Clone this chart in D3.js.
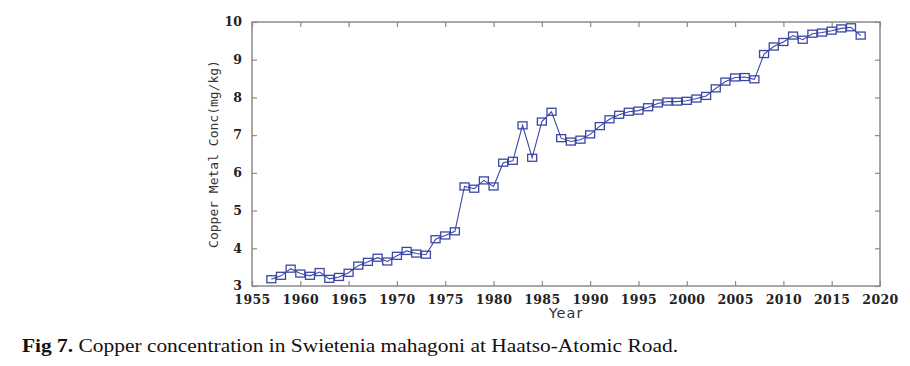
<!DOCTYPE html>
<html>
<head>
<meta charset="utf-8">
<script src="https://cdn.jsdelivr.net/npm/d3@7"></script>
<style>
  body { margin: 0; background: #fff; }
  .tick text { font-family: "DejaVu Serif", serif; font-weight: bold; fill: #222; }
</style>
</head>
<body>
<div class="chart"></div>
<script>
// values
const years = d3.range(1957, 2019)
const copper = [
  3.18, 3.27, 3.46, 3.33, 3.27, 3.37, 3.19, 3.24, 3.35, 3.54,
  3.64, 3.75, 3.65, 3.80, 3.93, 3.86, 3.83, 4.24, 4.34, 4.45,
  5.64, 5.58, 5.80, 5.64, 6.27, 6.32, 7.26, 6.40, 7.36, 7.62,
  6.92, 6.83, 6.88, 7.02, 7.24, 7.42, 7.54, 7.62, 7.65, 7.74,
  7.84, 7.89, 7.89, 7.91, 7.97, 8.04, 8.24, 8.42, 8.53, 8.54,
  8.48, 9.15, 9.35, 9.47, 9.64, 9.53, 9.69, 9.72, 9.77, 9.83,
  9.86, 9.64
]
const xTicks = d3.range(1955, 2021, 5)
const yTicks = [3, 4, 5, 6, 7, 8, 9, 10]

const width = 910, height = 366
const margin = {top: 22, right: 30, bottom: 80, left: 252}
const data = years.map((y, i) => ({year: y, value: copper[i]}))

const svg = d3.select(".chart").append("svg")
  .attr("width", width)
  .attr("height", height)

const x = d3.scaleLinear().domain([1955, 2020]).range([margin.left, width - margin.right])
const y = d3.scaleLinear().domain([3, 10]).range([height - margin.bottom, margin.top])

const axisColor = "#8a8a8a"

// frame
svg.append("rect")
  .attr("x", x(1955)).attr("y", y(10))
  .attr("width", x(2020) - x(1955)).attr("height", y(3) - y(10))
  .attr("fill", "none").attr("stroke", axisColor).attr("stroke-width", 1.5)

const gx = svg.append("g")
  .attr("transform", `translate(0,${y(3)})`)
  .call(d3.axisBottom(x).tickValues(xTicks).tickFormat(d3.format("d")).tickSizeInner(-5).tickSizeOuter(0).tickPadding(6))
const gxTop = svg.append("g")
  .attr("transform", `translate(0,${y(10)})`)
  .call(d3.axisTop(x).tickValues(xTicks).tickSizeInner(-5).tickSizeOuter(0).tickFormat(""))
const gy = svg.append("g")
  .attr("transform", `translate(${x(1955)},0)`)
  .call(d3.axisLeft(y).tickValues(yTicks).tickFormat(d3.format("d")).tickSizeInner(-5).tickSizeOuter(0).tickPadding(10))
const gyRight = svg.append("g")
  .attr("transform", `translate(${x(2020)},0)`)
  .call(d3.axisRight(y).tickValues(yTicks).tickSizeInner(-5).tickSizeOuter(0).tickFormat(""))

;[gx, gxTop, gy, gyRight].forEach(g => {
  g.select(".domain").remove()
  g.selectAll(".tick line").attr("stroke", axisColor).attr("stroke-width", 1.2)
})
gx.selectAll(".tick text").attr("font-size", 12.5).attr("letter-spacing", 0.4).attr("dy", "0.95em")
gy.selectAll(".tick text").attr("font-size", 12.5).attr("dy", "0.3em")

// line + markers
const lineColor = "#3b47a3"
svg.append("path")
  .datum(data)
  .attr("fill", "none")
  .attr("stroke", lineColor)
  .attr("stroke-width", 1.1)
  .attr("d", d3.line().x(d => x(d.year)).y(d => y(d.value)))

svg.selectAll("rect.marker")
  .data(data)
  .join("rect")
    .attr("class", "marker")
    .attr("x", d => x(d.year) - 4.5)
    .attr("y", d => y(d.value) - 3.5)
    .attr("width", 9)
    .attr("height", 7)
    .attr("fill", "none")
    .attr("stroke", lineColor)
    .attr("stroke-width", 1.3)

// axis titles
svg.append("text")
  .attr("x", x(1987.5))
  .attr("y", 318)
  .attr("text-anchor", "middle")
  .attr("font-family", "DejaVu Sans")
  .attr("font-size", 14.5)
  .attr("letter-spacing", 1)
  .attr("fill", "#333")
  .text("Year")

svg.append("text")
  .attr("transform", `translate(218,${y(6.5)}) rotate(-90)`)
  .attr("text-anchor", "middle")
  .attr("font-family", "DejaVu Sans Mono")
  .attr("font-size", 13)
  .attr("fill", "#333")
  .text("Copper Metal Conc(mg/kg)")

// caption
const cap = svg.append("text")
  .attr("x", 22)
  .attr("y", 352)
  .attr("font-family", "Liberation Serif, serif")
  .attr("font-size", 19)
  .attr("textLength", 656)
  .attr("lengthAdjust", "spacingAndGlyphs")
  .attr("fill", "#111")
cap.append("tspan").attr("font-weight", "bold").text("Fig 7.")
cap.append("tspan").text(" Copper concentration in Swietenia mahagoni at Haatso-Atomic Road.")
</script>
</body>
</html>
